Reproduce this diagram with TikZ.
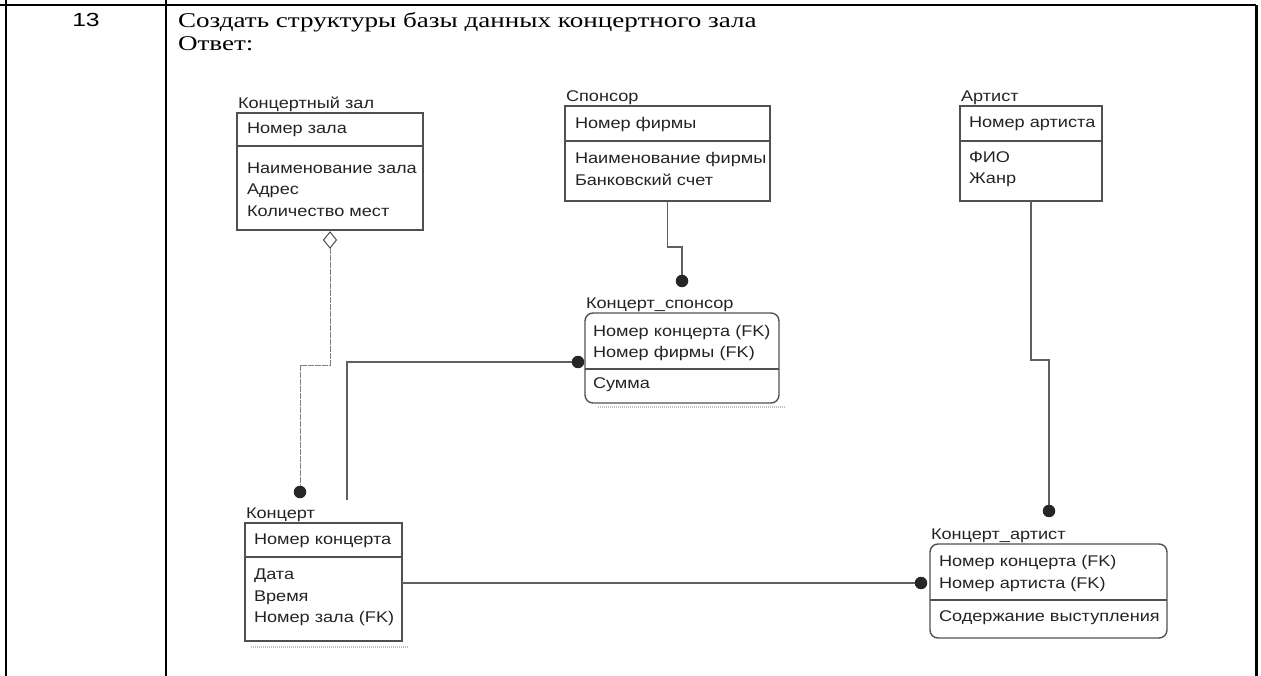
\documentclass[tikz,border=0pt]{standalone}
\usepackage{fontspec}
\setmainfont{Liberation Serif}[FakeStretch=1.29]
\newfontfamily\erfont{Liberation Sans}[FakeStretch=1.17]
\newfontfamily\numfont{Liberation Sans}[FakeStretch=1.3]
\usepackage{tikz}
\usetikzlibrary{positioning}
\usetikzlibrary{shapes.geometric}
\definecolor{boxgray}{RGB}{80,80,80}
\definecolor{linegray}{RGB}{95,95,95}
\definecolor{inkgray}{RGB}{35,35,35}

\begin{document}
\begin{tikzpicture}[
  x=1pt, y=-1pt,
  every node/.style={inner sep=0pt, outer sep=0pt},
  cell/.style={line width=2pt},
  entity/.style={draw=boxgray, line width=1.4pt, anchor=north west},
  depentity/.style={entity, rounded corners=8pt},
  divider/.style={draw=boxgray, line width=1.4pt},
  ename/.style={font=\erfont\fontsize{15.5}{18}\selectfont, text=inkgray, inner sep=1pt},
  field/.style={font=\erfont\fontsize{15.5}{21.5}\selectfont, text=inkgray, anchor=west, align=left},
  fkdot/.style={circle, fill=black!85, minimum size=12.5pt},
  rel/.style={draw=linegray, line width=1.4pt},
  nonid/.style={rel, draw=linegray!80, line width=1pt, dash pattern=on 6pt off 1pt},
  agg/.style={diamond, draw=boxgray, line width=1pt, fill=white, minimum width=13pt, minimum height=16pt},
  shade/.style={draw=gray!50, line width=2.5pt, dash pattern=on 1.2pt off 0.8pt}
]
\useasboundingbox (0,0) rectangle (1261,676);

% Table
\draw[cell] (6,0) -- (6,676);
\draw[cell] (166,0) -- (166,676);
\draw[cell, line width=1.5pt] (0,5) -- (1256,5);
\draw[cell, line width=3pt] (1256,5) -- (1256,676);

\node[font=\numfont\fontsize{19}{21}\selectfont] (num) at (86,20) {13};
\node[anchor=west, font=\fontsize{21}{23}\selectfont] (task) at (178,22) {Создать структуры базы данных концертного зала};
\node[anchor=west, font=\fontsize{21}{23}\selectfont] (answer) at (178,44) {Ответ:};

% Entities
\node[entity, minimum width=186pt, minimum height=117pt] (hall) at (237,113) {};
\draw[divider] ([yshift=-33pt]hall.north west) -- ([yshift=-33pt]hall.north east);
\node[ename, above right=0pt of hall.north west] (hallN) {Концертный зал};
\node[field] (hallK) at (247,130) {Номер зала};
\node[field] (hallA) at (247,189.5) {Наименование зала\\Адрес\\Количество мест};

\node[entity, minimum width=205pt, minimum height=95pt] (sponsor) at (565,106) {};
\draw[divider] ([yshift=-35pt]sponsor.north west) -- ([yshift=-35pt]sponsor.north east);
\node[ename, above right=0pt of sponsor.north west] (sponsorN) {Спонсор};
\node[field] (sponsorK) at (575,124) {Номер фирмы};
\node[field] (sponsorA) at (575,169) {Наименование фирмы\\Банковский счет};

\node[entity, minimum width=142pt, minimum height=95pt] (artist) at (960,106) {};
\draw[divider] ([yshift=-35pt]artist.north west) -- ([yshift=-35pt]artist.north east);
\node[ename, above right=0pt of artist.north west] (artistN) {Артист};
\node[field] (artistK) at (969,124) {Номер артиста};
\node[field] (artistA) at (969,169) {ФИО\\Жанр};

\node[depentity, minimum width=194pt, minimum height=90pt] (csp) at (585,313) {};
\draw[divider] ([yshift=-56pt]csp.north west) -- ([yshift=-56pt]csp.north east);
\draw[shade] ([shift={(13pt,-4pt)}]csp.south west) -- ([shift={(6pt,-4pt)}]csp.south east);
\node[ename, above right=0pt of csp.north west] (cspN) {Концерт\_спонсор};
\node[field] (cspK) at (593,343) {Номер концерта (FK)\\Номер фирмы (FK)};
\node[field] (cspA) at (593,385) {Сумма};

\node[entity, minimum width=157pt, minimum height=118pt] (concert) at (245,523) {};
\draw[divider] ([yshift=-34pt]concert.north west) -- ([yshift=-34pt]concert.north east);
\draw[shade] ([shift={(6pt,-6pt)}]concert.south west) -- ([shift={(7pt,-6pt)}]concert.south east);
\node[ename, above right=0pt of concert.north west] (concertN) {Концерт};
\node[field] (concertK) at (254,541) {Номер концерта};
\node[field] (concertA) at (254,597.5) {Дата\\Время\\Номер зала (FK)};

\node[depentity, minimum width=237pt, minimum height=94pt] (cart) at (930,544) {};
\draw[divider] ([yshift=-56pt]cart.north west) -- ([yshift=-56pt]cart.north east);
\node[ename, above right=0pt of cart.north west] (cartN) {Концерт\_артист};
\node[field] (cartK) at (939,573.5) {Номер концерта (FK)\\Номер артиста (FK)};
\node[field] (cartA) at (939,618) {Содержание выступления};

% Relationship ends
\node[agg] (hallAgg) at (330,240) {};
\node[fkdot] (concertD) at (300,492) {};
\node[fkdot] (cspD1) at (682,281) {};
\node[fkdot] (cspD2) at (578,362) {};
\node[fkdot] (cartD1) at (1049,511) {};
\node[fkdot] (cartD2) at (921,583) {};
\coordinate (concertTop) at (347,500);

% Connectors
\draw[nonid] (hallAgg.south) |- (300,365) -- (concertD);
\draw[rel] (concertTop) |- (cspD2);
\draw[rel] (concert.east |- cartD2) -- (cartD2);
\draw[rel] (sponsor.south) |- (682,247) -- (cspD1);
\draw[rel] (artist.south) |- (1049,360) -- (cartD1);
\end{tikzpicture}
\end{document}
